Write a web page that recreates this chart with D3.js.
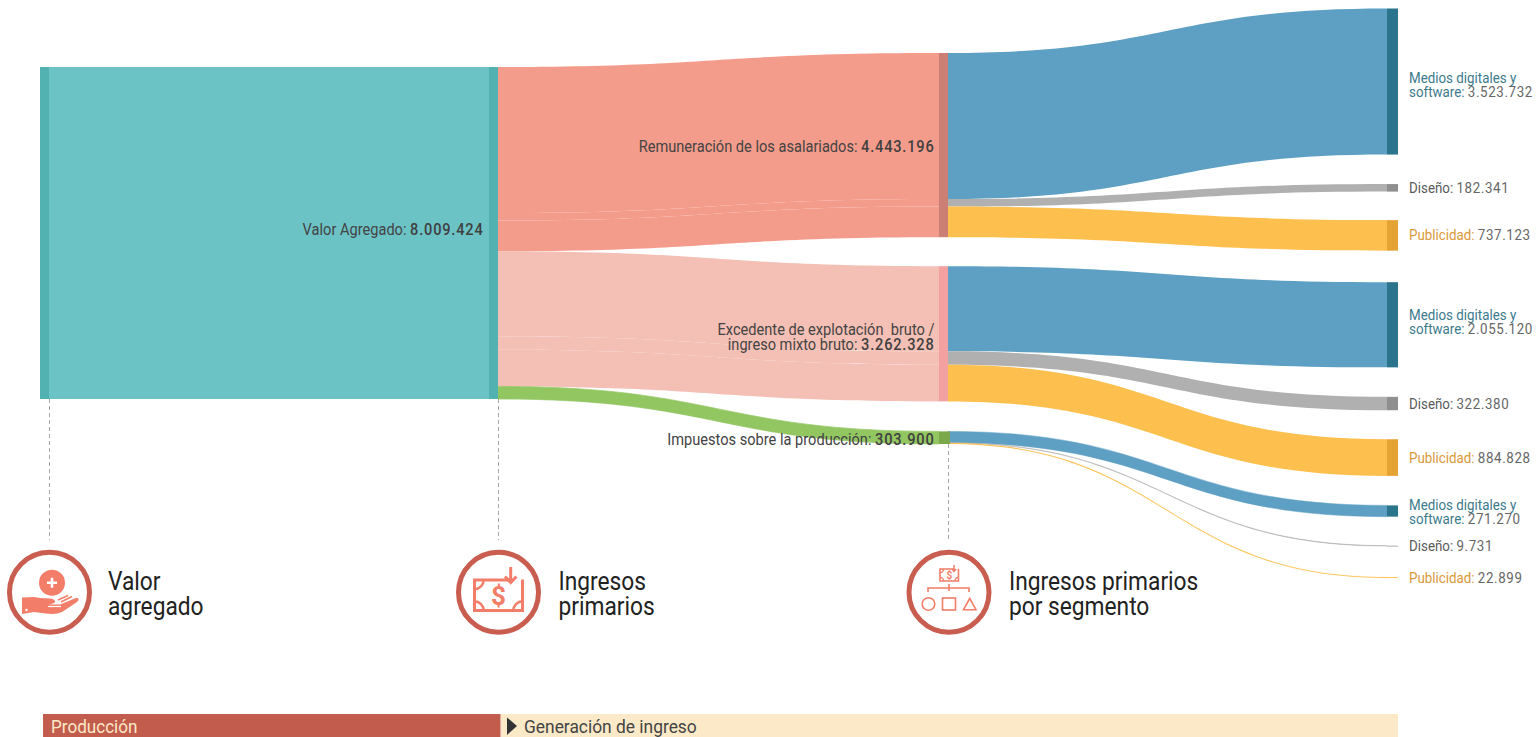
<!DOCTYPE html>
<html><head><meta charset="utf-8">
<script src="https://cdn.jsdelivr.net/npm/d3@7/dist/d3.min.js"></script>
<style>html,body{margin:0;padding:0;background:#fff;overflow:hidden}svg{display:block}text{font-family:Roboto,sans-serif}</style>
</head><body><svg id="c" width="1537" height="737"></svg>
<script>
// ---- data ----
const totalName = "Valor Agregado";
const totalValue = 8009424;
const primaryNames = [["Remuneración de los asalariados"], ["Excedente de explotación  bruto /", "ingreso mixto bruto"], ["Impuestos sobre la producción"]];
const primaryValues = [4443196, 3262328, 303900];
const segmentNames = [["Medios digitales y", "software"], ["Diseño"], ["Publicidad"]];
const mediosValues = [3523732, 2055120, 271270];
const disenoValues = [182341, 322380, 9731];
const publicidadValues = [737123, 884828, 22899];
const stageTitles = [["Valor", "agregado"], ["Ingresos", "primarios"], ["Ingresos primarios", "por segmento"]];
const bandLabels = ["Producción", "Generación de ingreso"];

// ---- layout ----
const fmt = v => d3.format(",")(v).replace(/,/g, ".");
const h = d3.scaleLinear().domain([0, totalValue]).range([0, 332]);
const col = {a0: 40, a1: 49, b0: 489, b1: 498, c0: 939, c1: 948, d0: 1387, d1: 1398};
const topA = 67, topC = 53, topD = 8.5;
const gapsC = [29, 30];
const gapsD = [29.5, 28.5, 31.5, 29.5, 29, 29.5, 29, 31];
const twoLineNudge = [1, -5, -2];
const linkColP = ["#f49c8b", "#f4bfb5", "#92c661"];
const nodeColP = ["#cc7f74", "#f3a0a0", "#7aa84a"];
const linkColS = ["#5ea0c4", "#b0b0b0", "#fdc04f"];
const nodeColS = ["#2a758c", "#8f8f8f", "#e5a334"];
const labelColS = ["#3c7a8c", "#5a5a5a", "#d9983a"];
const segVals = [mediosValues, disenoValues, publicidadValues];

const svg = d3.select("#c");
const gLinks = svg.append("g"), gNodes = svg.append("g"), gGuides = svg.append("g"), gText = svg.append("g");

function ribbon(x0, x1, a0, a1, b0, b1) {
  const m = (x0 + x1) / 2, p = d3.path();
  p.moveTo(x0, a0);
  p.bezierCurveTo(m, a0, m, b0, x1, b0);
  p.lineTo(x1, b1);
  p.bezierCurveTo(m, b1, m, a1, x0, a1);
  p.closePath();
  return p.toString();
}
function rect(x0, x1, y0, y1, fill) {
  gNodes.append("rect").attr("x", x0).attr("y", y0).attr("width", x1 - x0).attr("height", y1 - y0).attr("fill", fill);
}
function label(x, y, anchor, runs, size, sx) {
  const t = gText.append("text")
    .attr("transform", `translate(${x},${y}) scale(${sx},1)`)
    .attr("text-anchor", anchor).attr("font-size", size).style("white-space", "pre");
  runs.forEach(r => t.append("tspan").text(r.t).attr("fill", r.c)
    .attr("font-weight", r.w || 400).attr("letter-spacing", r.ls || 0));
}
const P = 16.5, PX = 0.885, S = 15, SX = 0.89;
const valRun = v => ({t: fmt(v), c: "#404040", w: 500, ls: 0.9});
const segRun = v => ({t: fmt(v), c: "#666", ls: 0.7});

// first column
const bottomA = topA + h(totalValue);
gLinks.append("rect").attr("x", col.a1).attr("y", topA).attr("width", col.b0 - col.a1).attr("height", h(totalValue)).attr("fill", "#6cc3c6");
rect(col.a0, col.a1, topA, bottomA, "#52b1b1");
rect(col.b0, col.b1, topA, bottomA, "#52b1b1");
label(col.b0 - 5.5, (topA + bottomA) / 2 + 1.5, "end", [{t: totalName + ": ", c: "#444"}, valRun(totalValue)], P, PX);

// primary + segment flows
let yB = topA, yC = topC, yD = topD, dIdx = 0;
primaryValues.forEach((pv, i) => {
  let b = yB, c = yC;
  const seam = i === 2 ? 0.7 : 0;
  segVals.forEach((vals, s) => {
    const t = h(vals[i]);
    const seamS = i === 2 ? (s === 0 ? 0.5 : s === 1 ? 0.5 : 0.15) : 0;
    gLinks.append("path").attr("d", ribbon(col.b1, col.c0, b, b + t, c, c + t)).attr("fill", linkColP[i])
      .attr("stroke", seam ? linkColP[i] : "none").attr("stroke-width", seam);
    gLinks.append("path").attr("d", ribbon(col.c1, col.d0, c, c + t, yD, yD + t)).attr("fill", linkColS[s])
      .attr("stroke", seamS ? linkColS[s] : "none").attr("stroke-width", seamS);
    rect(col.d0, col.d1, yD, yD + Math.max(t, 1), i === 2 && s > 0 ? linkColS[s] : nodeColS[s]);
    const names = segmentNames[s], cy = yD + t / 2;
    const rx = col.d1 + 11;
    if (names.length === 2) {
      const n = twoLineNudge[i];
      label(rx, cy + 0.5 + n, "start", [{t: names[0], c: labelColS[s]}], S, SX);
      label(rx, cy + 14.5 + n, "start", [{t: names[1] + ": ", c: labelColS[s]}, segRun(vals[i])], S, SX);
    } else {
      label(rx, cy + 5, "start", [{t: names[0] + ": ", c: labelColS[s]}, segRun(vals[i])], S, SX);
    }
    b += t; c += t; yD += t + (gapsD[dIdx] || 0); dIdx++;
  });
  const ph = h(pv);
  rect(col.c0, col.c1 + (i === 2 ? 2 : 0), yC, yC + ph, nodeColP[i]);
  const lines = primaryNames[i], mid = yC + ph / 2, lx = col.c0 - 4.5;
  if (lines.length === 2) {
    label(lx, mid + 1, "end", [{t: lines[0], c: "#444"}], P, PX);
    label(lx, mid + 16, "end", [{t: lines[1] + ": ", c: "#444"}, valRun(pv)], P, PX);
  } else {
    label(lx, mid + 7, "end", [{t: lines[0] + ": ", c: "#444"}, valRun(pv)], P, PX);
  }
  yB += ph; yC += ph + (gapsC[i] || 0);
});

// guides
const guideBottom = 540;
[[col.a1, bottomA], [col.b1, bottomA], [col.c1, topC + h(totalValue) + gapsC[0] + gapsC[1]]].forEach(([x, y]) => {
  gGuides.append("line").attr("x1", x + 0.5).attr("x2", x + 0.5).attr("y1", y).attr("y2", guideBottom)
    .attr("stroke", "#a5a5a5").attr("stroke-width", 1).attr("stroke-dasharray", "4 3");
});

// stage icons + titles
const ring = "#c85d50", ico = "#f27d68";
const cx = [49.5, 498.5, 949];
const titleX = [108, 558.5, 1009];
cx.forEach((x, i) => {
  svg.append("circle").attr("cx", x).attr("cy", 592.3).attr("r", 40).attr("fill", "#fff").attr("stroke", ring).attr("stroke-width", 5);
  stageTitles[i].forEach((line, j) => {
    gText.append("text").attr("transform", `translate(${titleX[i]},${590 + j * 25}) scale(0.875,1)`)
      .attr("font-size", 26).attr("fill", "#222").text(line);
  });
});
// hand icon
const g1 = svg.append("g");
g1.append("circle").attr("cx", 52).attr("cy", 582.7).attr("r", 13).attr("fill", ico);
g1.append("path").attr("d", "M47 582.7H57M52 577.7V587.7").attr("stroke", "#fff").attr("stroke-width", 2.6);
g1.append("path").attr("fill", ico).attr("d", "M22 597.5L34 597L40 598L50 598.5C55 599 57 602 53 603.5L49 604.5L60 604.5L76 598C79.5 597.5 79 600 77 602L62 612C58 614 52 614.5 46 613.5L34 612L22 614Z");
g1.append("path").attr("d", "M58 600L68 595.5M61 602L72 596.5").attr("stroke", ico).attr("stroke-width", 1.6).attr("fill", "none");
g1.append("path").attr("d", "M48 606.5H61").attr("stroke", "#fff").attr("stroke-width", 1.2);
g1.append("circle").attr("cx", 26.5).attr("cy", 610).attr("r", 1.2).attr("fill", "#fff");
// money icon
function money(g, x, y, w, hh, sw, fs) {
  g.append("path").attr("fill", "none").attr("stroke", ico).attr("stroke-width", sw)
    .attr("d", `M${x + w * 0.78} ${y}H${x}V${y + hh}H${x + w}V${y - hh * 0.02}`);
  const r = hh * 0.3;
  g.append("path").attr("fill", "none").attr("stroke", ico).attr("stroke-width", sw * 0.85)
    .attr("d", `M${x} ${y + r}A${r} ${r} 0 0 0 ${x + r} ${y}M${x} ${y + hh - r}A${r} ${r} 0 0 1 ${x + r} ${y + hh}M${x + w} ${y + hh - r}A${r} ${r} 0 0 0 ${x + w - r} ${y + hh}`);
  g.append("text").attr("x", x + w / 2).attr("y", y + hh / 2 + fs * 0.36).attr("text-anchor", "middle")
    .attr("font-size", fs).attr("font-weight", 700).attr("fill", ico).text("$");
}
const g2 = svg.append("g");
money(g2, 474.5, 580, 48, 30.5, 3, 26);
g2.append("path").attr("fill", "none").attr("stroke", ico).attr("stroke-width", 3).attr("d", "M510.7 567V582M505 576.5L510.7 582.5L516.4 576.5");
// hierarchy icon
const g3 = svg.append("g");
money(g3, 940, 569, 18.5, 12, 1.6, 10);
g3.append("path").attr("fill", "none").attr("stroke", ico).attr("stroke-width", 1.5).attr("d", "M954 565V571M951.8 569L954 571.3L956.2 569");
g3.append("path").attr("fill", "none").attr("stroke", ico).attr("stroke-width", 1.6).attr("d", "M928 592V588H969V592M949 584V591");
g3.append("circle").attr("cx", 928.5).attr("cy", 604).attr("r", 6.3).attr("fill", "none").attr("stroke", ico).attr("stroke-width", 1.6);
g3.append("rect").attr("x", 942.5).attr("y", 598).attr("width", 13).attr("height", 12).attr("fill", "none").attr("stroke", ico).attr("stroke-width", 1.6);
g3.append("path").attr("d", "M963.5 609.7H976L969.7 598.5Z").attr("fill", "none").attr("stroke", ico).attr("stroke-width", 1.6);

// bottom band
svg.append("rect").attr("x", 43).attr("y", 714).attr("width", 457.5).attr("height", 23).attr("fill", "#c25c4c");
svg.append("rect").attr("x", 501).attr("y", 714).attr("width", 897).attr("height", 23).attr("fill", "#fbe9c8");
svg.append("path").attr("d", "M507 717.5L517 726L507 735Z").attr("fill", "#333");
svg.append("text").attr("transform", "translate(51,733) scale(0.9,1)").attr("font-size", 19).attr("fill", "#fbe9c8").text(bandLabels[0]);
svg.append("text").attr("transform", "translate(524,733) scale(0.915,1)").attr("font-size", 19).attr("fill", "#444").text(bandLabels[1]);
</script></body></html>
